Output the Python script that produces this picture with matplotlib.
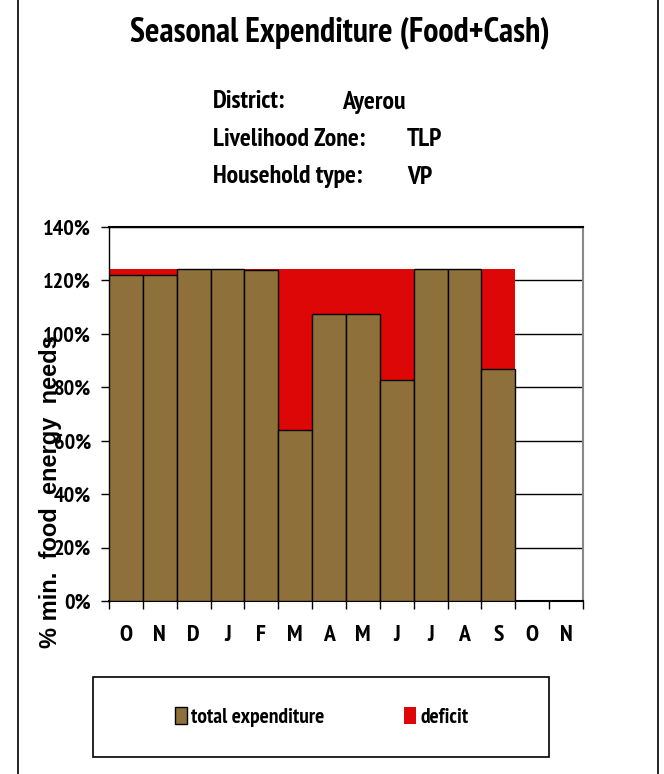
import matplotlib
matplotlib.use("Agg")
import matplotlib.pyplot as plt
from matplotlib.lines import Line2D
from matplotlib.patches import Rectangle
from matplotlib.ticker import FuncFormatter

plt.rcParams["font.family"] = ["PT Sans Narrow", "Liberation Sans", "DejaVu Sans"]
plt.rcParams["font.weight"] = "bold"

months = ["O", "N", "D", "J", "F", "M", "A", "M", "J", "J", "A", "S", "O", "N"]
expenditure = [122, 122, 124.3, 124.3, 123.8, 64, 107.6, 107.6, 82.6, 124.3, 124.3, 86.7, 0, 0]
deficit = [2.3, 2.3, 0, 0, 0.5, 60.3, 16.7, 16.7, 41.7, 0, 0, 37.6, 0, 0]

BROWN = "#8E713A"
RED = "#DD0707"

fig = plt.figure(figsize=(6.64, 7.74), dpi=100)
ax = fig.add_axes([109 / 664, 1 - 601 / 774, 474 / 664, 374 / 774])

x = list(range(len(months)))
ax.bar(x, expenditure, width=1.0, align="edge", color=BROWN,
       edgecolor="black", linewidth=1.0, label="total expenditure", zorder=3)
ax.bar(x, deficit, width=1.0, align="edge", bottom=expenditure, color=RED,
       edgecolor="none", label="deficit", zorder=2)

ax.set_xlim(0, len(months))
ax.set_ylim(0, 140)
ax.set_yticks(range(0, 141, 20))
ax.yaxis.set_major_formatter(FuncFormatter(lambda v, p: f"{v:.0f}%"))
ax.set_xticks(range(len(months) + 1))
ax.set_xticklabels([])
ax.set_xticks([i + 0.5 for i in x], minor=True)
ax.set_xticklabels(months, minor=True, fontsize=17, fontweight="bold")
ax.tick_params(axis="x", which="minor", length=0, pad=17)
ax.tick_params(axis="x", which="major", direction="out", length=6, width=1)
ax.tick_params(axis="y", direction="out", length=6, width=1, labelsize=16, pad=7)
for lbl in ax.get_yticklabels():
    lbl.set_fontweight("bold")

ax.grid(axis="y", color="black", linewidth=1.0, zorder=1)
ax.set_axisbelow(True)
ax.spines["top"].set_linewidth(1.5)
ax.spines["right"].set_color("#888888")
ax.spines["right"].set_linewidth(1.5)
ax.spines["bottom"].set_linewidth(1.5)
ax.spines["left"].set_linewidth(1.0)

# the rotated label is drawn in a wider face than the rest
fig.text(50 / 664, 1 - 492 / 774, "% min.  food  energy  needs", rotation=90,
         ha="center", va="center", fontsize=17, fontweight="bold",
         family=["Liberation Sans", "DejaVu Sans"])

fig.text(340 / 664, 1 - 33 / 774, "Seasonal Expenditure (Food+Cash)",
         ha="center", va="center", fontsize=24.5, fontweight="bold")

info = [("District:", "Ayerou", 342, 102),
        ("Livelihood Zone:", "TLP", 407, 140),
        ("Household type:", "VP", 407, 177)]
for key, val, vx, vy in info:
    fig.text(213 / 664, 1 - vy / 774, key, ha="left", va="center",
             fontsize=18.5, fontweight="bold")
    fig.text(vx / 664, 1 - vy / 774, val, ha="left", va="center",
             fontsize=18.5, fontweight="bold")

# legend box
fig.patches.append(Rectangle((93 / 664, 1 - 757 / 774), 456 / 664, 80 / 774,
                             transform=fig.transFigure, facecolor="white",
                             edgecolor="black", linewidth=1.2))
handles = [Rectangle((0, 0), 1, 1, facecolor=BROWN, edgecolor="black", linewidth=1),
           Rectangle((0, 0), 1, 1, facecolor=RED, edgecolor="none")]
fig.legend(handles, ["total expenditure", "deficit"], loc="center",
           bbox_to_anchor=(322 / 664, 1 - 717 / 774), ncol=2, frameon=False,
           fontsize=15.5, handlelength=0.55, handleheight=0.8, handletextpad=0.2,
           columnspacing=3.7)

# outer frame lines
fig.add_artist(Line2D([18 / 664, 18 / 664], [0, 1], color="black", linewidth=1.2,
                      transform=fig.transFigure))
fig.add_artist(Line2D([658 / 664, 658 / 664], [0, 1], color="black", linewidth=1.2,
                      transform=fig.transFigure))

fig.savefig("out.png", dpi=100)
